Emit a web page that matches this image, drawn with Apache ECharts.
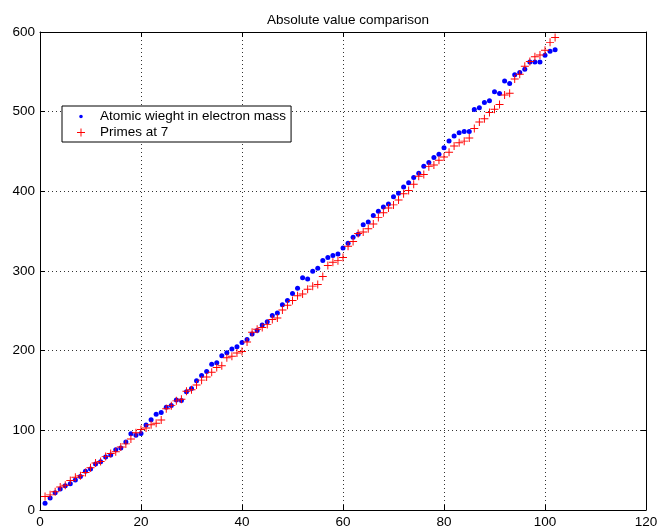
<!DOCTYPE html>
<html>
<head>
<meta charset="utf-8">
<script src="https://cdn.jsdelivr.net/npm/echarts@6/dist/echarts.min.js"></script>
<style>
  html, body { margin: 0; padding: 0; background: #fff; }
  #chart { width: 669px; height: 532px; }
</style>
</head>
<body>
<div id="chart"></div>
<script>
// atomic weight (scaled) for elements 1..102
const atomicWeight = [
  8.5, 15.2, 21.8, 26.4, 30.4, 33.1, 37.6, 42.0, 48.7, 51.4,
  57.7, 60.6, 66.6, 69.0, 75.5, 77.9, 85.5, 95.6, 93.7, 95.9,
  106.8, 113.3, 120.2, 122.5, 129.1, 131.1, 138.0, 137.5, 148.3, 152.4,
  162.2, 168.7, 173.8, 182.8, 184.9, 193.6, 197.4, 202.2, 205.0, 210.2,
  214.0, 220.8, 225.4, 232.2, 236.4, 244.2, 247.4, 257.6, 263.0, 271.7,
  278.5, 291.6, 290.0, 299.8, 303.4, 313.3, 316.9, 319.6, 321.3, 328.8,
  334.9, 342.5, 346.0, 357.9, 361.6, 369.6, 375.0, 380.2, 384.0, 393.2,
  397.5, 405.4, 410.9, 417.3, 422.6, 431.6, 436.1, 442.4, 446.7, 454.8,
  463.2, 469.5, 473.5, 475.0, 475.0, 502.6, 504.9, 511.6, 513.8, 525.1,
  522.9, 538.5, 535.5, 546.4, 549.3, 553.1, 562.3, 562.3, 562.3, 570.7,
  575.7, 577.8
];

// primes starting at the 7th prime
const primes = [
  17, 19, 23, 29, 31, 37, 41, 43, 47, 53,
  59, 61, 67, 71, 73, 79, 83, 89, 97, 101,
  103, 107, 109, 113, 127, 131, 137, 139, 149, 151,
  157, 163, 167, 173, 179, 181, 191, 193, 197, 199,
  211, 223, 227, 229, 233, 239, 241, 251, 257, 263,
  269, 271, 277, 281, 283, 293, 307, 311, 313, 317,
  331, 337, 347, 349, 353, 359, 367, 373, 379, 383,
  389, 397, 401, 409, 419, 421, 431, 433, 439, 443,
  449, 457, 461, 463, 467, 479, 487, 491, 499, 503,
  509, 521, 523, 541, 547, 557, 563, 569, 571, 577,
  587, 593
];

const xTicks = [0, 120, 20];
const yTicks = [0, 600, 100];

const font = "Liberation Sans, Arial, Helvetica, sans-serif";
const fs = 13.5;
const plusPath = "path://M-0.12,-1 L0.12,-1 L0.12,-0.12 L1,-0.12 L1,0.12 L0.12,0.12 L0.12,1 L-0.12,1 L-0.12,0.12 L-1,0.12 L-1,-0.12 L-0.12,-0.12 Z";
// small dot with invisible corner points so the legend keeps it small
const dotPath = "path://M-1,-1 L-1,-1 Z M1,1 L1,1 Z M0,-0.45 A0.45,0.45 0 1,1 0,0.45 A0.45,0.45 0 1,1 0,-0.45 Z";

let myChart = echarts.init(document.getElementById("chart"));

function mainAxis(t, pos) {
  return {
    type: "value",
    position: pos,
    min: t[0],
    max: t[1],
    interval: t[2],
    axisLine: { show: true, onZero: false, lineStyle: { color: "#000", width: 1 } },
    axisTick: { show: true, inside: true, length: 5, lineStyle: { color: "#000" } },
    axisLabel: { color: "#000", fontSize: fs, fontFamily: font, margin: 5 },
    splitLine: { show: true, lineStyle: { color: "#333", width: 1, type: [1, 3] } },
  };
}

function mirrorAxis(t, pos) {
  return {
    type: "value",
    position: pos,
    min: t[0],
    max: t[1],
    interval: t[2],
    axisLine: { show: true, onZero: false, lineStyle: { color: "#000", width: 1 } },
    axisTick: { show: true, inside: true, length: 5, lineStyle: { color: "#000" } },
    axisLabel: { show: false },
    splitLine: { show: false },
  };
}

let option = {
  animation: false,
  backgroundColor: "#fff",
  title: {
    text: "Absolute value comparison",
    left: 343,
    textAlign: "center",
    top: 8,
    textStyle: { color: "#000", fontSize: fs, fontWeight: "normal", fontFamily: font },
  },
  grid: { left: 40, right: 23, top: 32, bottom: 22, containLabel: false },
  legend: {
    left: 62,
    top: 106,
    orient: "vertical",
    backgroundColor: "#fff",
    borderColor: "#000",
    borderWidth: 1,
    padding: [3, 5, 2, 15],
    itemGap: 1,
    itemWidth: 28,
    itemHeight: 8,
    textStyle: { color: "#000", fontSize: fs, fontFamily: font, lineHeight: 15 },
    data: [
      { name: "Atomic wieght in electron mass", icon: dotPath },
      { name: "Primes at 7", icon: plusPath },
    ],
  },
  xAxis: [mainAxis(xTicks, "bottom"), mirrorAxis(xTicks, "top")],
  yAxis: [mainAxis(yTicks, "left"), mirrorAxis(yTicks, "right")],
  series: [
    {
      name: "Atomic wieght in electron mass",
      type: "scatter",
      symbol: "circle",
      symbolSize: 5,
      itemStyle: { color: "#0000ff", opacity: 1 },
      data: atomicWeight.map((v, i) => [i + 1, v]),
    },
    {
      name: "Primes at 7",
      type: "scatter",
      symbol: plusPath,
      symbolSize: 8,
      itemStyle: { color: "#ff0000", opacity: 1 },
      data: primes.map((v, i) => [i + 1, v]),
    },
  ],
};

myChart.setOption(option);
</script>
</body>
</html>
